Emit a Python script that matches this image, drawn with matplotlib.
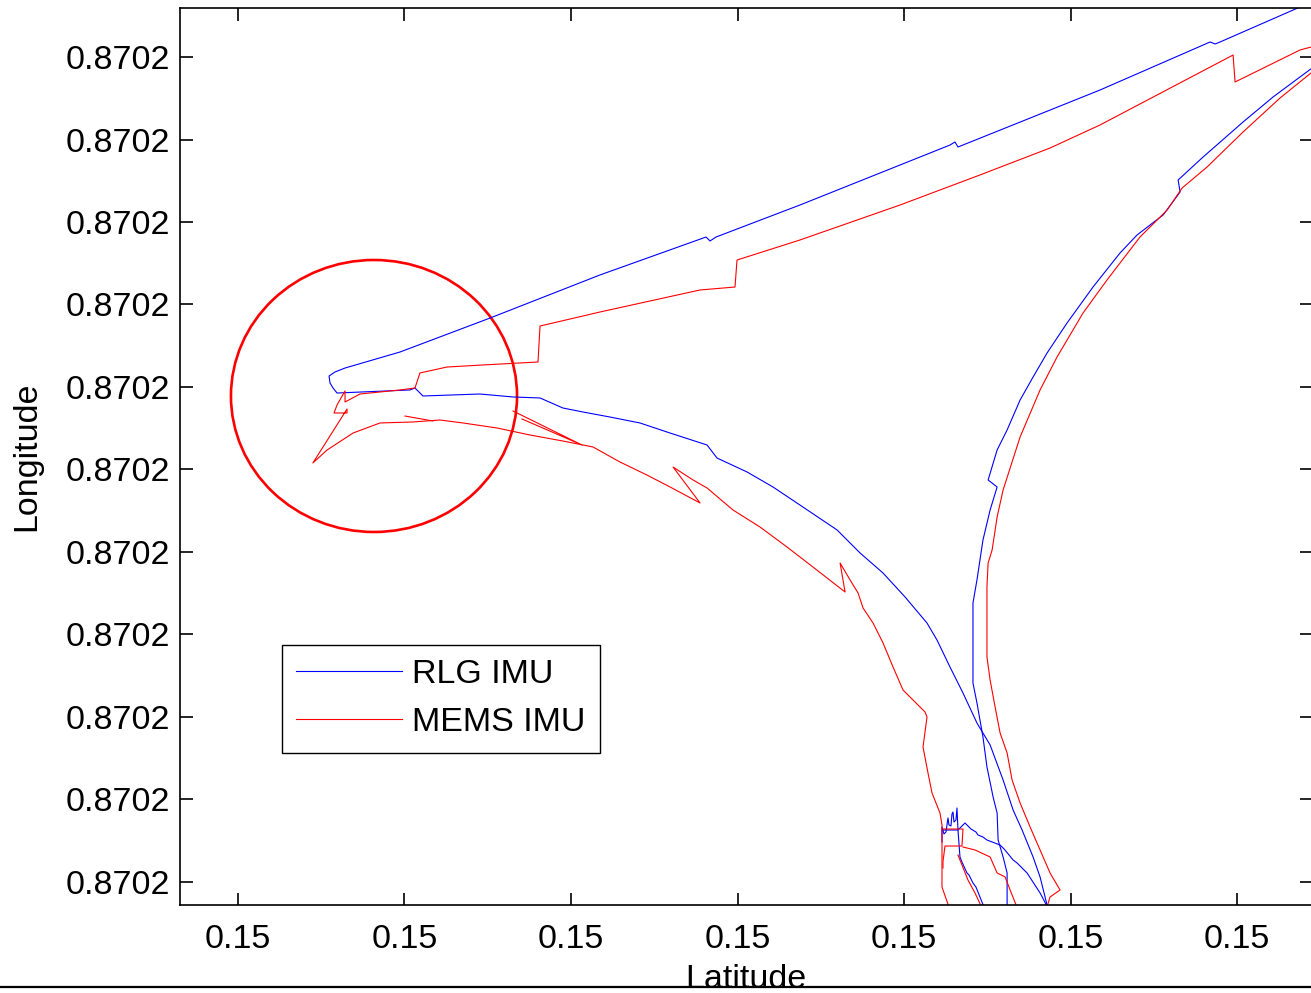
"""Trajectory comparison: RLG IMU vs MEMS IMU navigation solutions."""

import matplotlib

matplotlib.use("Agg")
import matplotlib.pyplot as plt  # noqa: E402
from matplotlib.lines import Line2D  # noqa: E402
from matplotlib.patches import Ellipse  # noqa: E402

plt.rcParams["font.family"] = ["Liberation Sans", "DejaVu Sans"]

# Positions are offsets in tick-grid units (one unit = one tick interval);
# the tick labels carry the rounded absolute values.
lat_ticks = [0, 1, 2, 3, 4, 5, 6]
lat_labels = ["0.15"] * 7
lon_ticks = [0, 1, 2, 3, 4, 5, 6, 7, 8, 9, 10]
lon_labels = ["0.8702"] * 11

# RLG IMU -- main pass (north-east leg, west turn, south-east leg)
rlg_lat_a = [6.499, 6.378, 5.898, 5.868, 5.838, 5.177, 4.324, 4.306, 4.276, 3.375,
             2.871, 2.835, 2.811, 2.174, 1.514, 0.973, 0.643, 0.583, 0.547, 0.553,
             0.571, 0.595, 1.033, 1.063, 1.111, 1.453, 1.652, 1.814, 1.952, 2.072,
             2.234, 2.414, 2.595, 2.817, 2.877, 3.057, 3.213, 3.393, 3.598, 3.736,
             3.874, 4.006, 4.138, 4.198, 4.276, 4.354, 4.438, 4.517, 4.595, 4.655,
             4.709, 4.775, 4.817, 4.859, 4.889]
rlg_lon_a = [10.691, 10.606, 10.182, 10.158, 10.182, 9.600, 8.909, 8.970, 8.933, 8.206,
             7.818, 7.770, 7.818, 7.358, 6.836, 6.424, 6.230, 6.182, 6.133, 6.048,
             5.988, 5.927, 5.964, 5.988, 5.891, 5.915, 5.879, 5.867, 5.745, 5.697,
             5.636, 5.564, 5.442, 5.297, 5.139, 4.970, 4.788, 4.545, 4.267, 3.988,
             3.745, 3.455, 3.139, 2.933, 2.606, 2.291, 1.927, 1.661, 1.236, 0.873,
             0.630, 0.303, 0.061, -0.279, -0.461]

# RLG IMU -- return leg from the north-east
rlg_lat_b = [6.499, 6.378, 6.216, 6.036, 5.796, 5.646, 5.658, 5.556, 5.399, 5.297,
             5.135, 4.979, 4.859, 4.775, 4.697, 4.619, 4.559, 4.505, 4.559, 4.517,
             4.474, 4.438, 4.414, 4.414, 4.438, 4.474, 4.498, 4.535, 4.559, 4.565,
             4.595, 4.619, 4.619]
rlg_lon_b = [9.939, 9.758, 9.515, 9.212, 8.788, 8.509, 8.364, 8.085, 7.842, 7.624,
             7.212, 6.776, 6.412, 6.121, 5.842, 5.479, 5.236, 4.873, 4.788, 4.509,
             4.145, 3.661, 3.382, 2.412, 2.170, 1.758, 1.394, 1.030, 0.836, 0.509,
             0.303, 0.109, -0.339]

# RLG IMU -- start-up jitter near the southern end
rlg_lat_c = [4.228, 4.228, 4.240, 4.252, 4.264, 4.270, 4.282, 4.288, 4.294, 4.300,
             4.312, 4.318, 4.324, 4.366, 4.390, 4.402, 4.432, 4.444, 4.474, 4.498,
             4.577, 4.601, 4.655, 4.679, 4.739, 4.817, 4.877]
rlg_lon_c = [0.485, 0.667, 0.582, 0.606, 0.776, 0.691, 0.679, 0.824, 0.848, 0.727,
             0.752, 0.897, 0.630, 0.715, 0.667, 0.642, 0.606, 0.570, 0.545, 0.509,
             0.448, 0.400, 0.267, 0.230, 0.109, -0.133, -0.364]

rlg_lat_d = [4.228, 4.324, 4.336, 4.348, 4.378, 4.390, 4.414, 4.432, 4.456, 4.492]
rlg_lon_d = [0.630, 0.630, 0.303, 0.242, 0.109, 0.085, -0.012, -0.061, -0.182, -0.364]

# MEMS IMU -- main pass
mems_lat_a = [6.499, 6.444, 6.378, 5.988, 5.976, 5.177, 4.877, 4.456, 3.976, 3.375,
              2.997, 2.985, 2.775, 2.174, 1.814, 1.802, 1.471, 1.255, 1.093, 1.063,
              0.973, 0.733, 0.643, 0.643, 0.595, 0.577, 0.655, 0.655, 0.450, 0.535,
              0.691, 0.853, 1.051, 1.213, 1.351, 1.556, 1.754, 1.952, 2.132, 2.294,
              2.456, 2.595, 2.775, 2.613, 2.733, 2.817, 2.973, 3.135, 3.297, 3.453,
              3.646, 3.616, 3.676, 3.724, 3.754, 3.814, 3.874, 3.934, 3.994, 4.126,
              4.138, 4.114, 4.144, 4.168, 4.216, 4.228, 4.228, 4.276]
mems_lon_a = [10.182, 10.121, 10.085, 9.697, 10.024, 9.176, 8.897, 8.570, 8.206, 7.782,
              7.539, 7.212, 7.176, 6.909, 6.739, 6.303, 6.267, 6.242, 6.170, 5.988,
              5.964, 5.915, 5.818, 5.952, 5.782, 5.685, 5.685, 5.733, 5.079, 5.236,
              5.442, 5.564, 5.576, 5.600, 5.564, 5.503, 5.418, 5.345, 5.273, 5.091,
              4.933, 4.788, 4.594, 5.030, 4.873, 4.776, 4.509, 4.303, 4.061, 3.818,
              3.515, 3.867, 3.661, 3.503, 3.321, 3.139, 2.897, 2.606, 2.327, 2.061,
              2.000, 1.636, 1.321, 1.079, 0.836, 0.691, -0.061, -0.339]

# MEMS IMU -- short glitches on the west leg
mems_lat_b = [1.652, 2.066, 1.706]
mems_lon_b = [5.709, 5.297, 5.612]
mems_lat_c = [1.003, 1.171]
mems_lon_c = [5.648, 5.588]

# MEMS IMU -- return leg from the north-east
mems_lat_d = [6.499, 6.444, 6.258, 6.036, 5.820, 5.670, 5.580, 5.417, 5.219, 5.075,
              4.919, 4.817, 4.697, 4.595, 4.559, 4.529, 4.505, 4.498, 4.498, 4.517,
              4.547, 4.577, 4.619, 4.649, 4.697, 4.757, 4.817, 4.877, 4.937, 4.877,
              4.853]
mems_lon_d = [9.891, 9.806, 9.503, 9.091, 8.667, 8.412, 8.145, 7.818, 7.297, 6.897,
              6.364, 5.964, 5.394, 4.752, 4.424, 4.024, 3.867, 3.576, 2.727, 2.448,
              2.121, 1.806, 1.564, 1.236, 0.958, 0.667, 0.388, 0.109, -0.097, -0.182,
              -0.339]

# MEMS IMU -- start-up jitter near the southern end
mems_lat_e = [4.234, 4.354, 4.348, 4.246, 4.234, 4.234]
mems_lon_e = [0.642, 0.642, 0.436, 0.436, 0.250, 0.170]
mems_lat_f = [4.354, 4.426, 4.517, 4.559, 4.607, 4.637, 4.685]
mems_lon_f = [0.424, 0.388, 0.303, 0.109, 0.061, -0.097, -0.339]
mems_lat_g = [4.324, 4.384, 4.426, 4.474]
mems_lon_g = [0.327, 0.024, -0.133, -0.339]

# highlighted region around the western turn
zoom_center = (0.817, 5.891)
zoom_width = 1.718
zoom_height = 3.297

W, H, DPI = 1311, 993, 100
fig = plt.figure(figsize=(W / DPI, H / DPI), dpi=DPI)
ax = fig.add_axes([180 / W, (H - 905) / H, 1132 / W, 897 / H])

blue, red = "#0000ff", "#ff0000"
lw = 0.8
ax.plot(rlg_lat_a, rlg_lon_a, color=blue, lw=lw, label="RLG IMU")
ax.plot(rlg_lat_b, rlg_lon_b, color=blue, lw=lw)
ax.plot(rlg_lat_c, rlg_lon_c, color=blue, lw=lw)
ax.plot(rlg_lat_d, rlg_lon_d, color=blue, lw=lw)
ax.plot(mems_lat_a, mems_lon_a, color=red, lw=lw, label="MEMS IMU")
for la, lo in [(mems_lat_b, mems_lon_b), (mems_lat_c, mems_lon_c),
               (mems_lat_d, mems_lon_d), (mems_lat_e, mems_lon_e),
               (mems_lat_f, mems_lon_f), (mems_lat_g, mems_lon_g)]:
    ax.plot(la, lo, color=red, lw=lw)

ax.add_patch(Ellipse(zoom_center, zoom_width, zoom_height, fill=False,
                     edgecolor=red, lw=1.9))

ax.set_xlim(-0.348, 6.450)
ax.set_ylim(-0.279, 10.594)
ax.set_xticks(lat_ticks, lat_labels)
ax.set_yticks(lon_ticks, lon_labels)
ax.tick_params(direction="in", length=9, width=1.2, top=True, right=True,
               labelsize=24.5, colors="black")
ax.tick_params(axis="x", pad=14)
ax.tick_params(axis="y", pad=7)
for s in ax.spines.values():
    s.set_linewidth(1.2)

ax.set_xlabel("Latitude", fontsize=24.5, labelpad=6)
ax.set_ylabel("Longitude", fontsize=24.5, labelpad=17)

leg = ax.legend(loc="upper left", bbox_to_anchor=((282 - 180) / 1132, (905 - 645) / 897),
                borderaxespad=0, fontsize=24.5, fancybox=False, framealpha=1,
                edgecolor="black", handlelength=3.1, handletextpad=0.3,
                labelspacing=0.5, borderpad=0.42)
leg.get_frame().set_linewidth(1.0)

# rule along the bottom of the page
fig.add_artist(Line2D([0, 1], [6 / H, 6 / H], transform=fig.transFigure,
                      color="black", lw=1.6))

fig.savefig("out.png", dpi=DPI)
